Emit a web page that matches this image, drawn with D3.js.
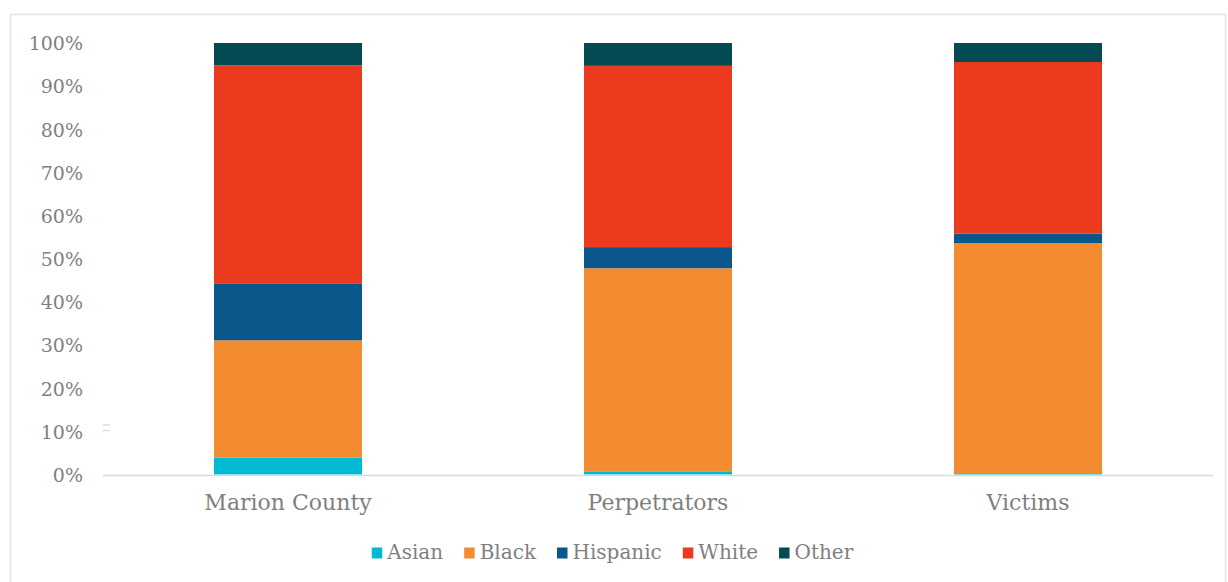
<!DOCTYPE html>
<html>
<head>
<meta charset="utf-8">
<script src="https://cdn.jsdelivr.net/npm/d3@7"></script>
<style>
  html, body { margin: 0; padding: 0; background: #ffffff; }
  svg { display: block; }
</style>
</head>
<body>
<svg id="chart" width="1228" height="582"></svg>
<script>
const categories = ["Marion County", "Perpetrators", "Victims"];
const seriesNames = ["Asian", "Black", "Hispanic", "White", "Other"];
const asian    = [3.9, 0.6, 0.3];
const black    = [27.2, 47.2, 53.3];
const hispanic = [13.2, 4.9, 2.2];
const white    = [50.5, 42.0, 39.8];
const other    = [5.2, 5.3, 4.4];
const yTicks = [0, 10, 20, 30, 40, 50, 60, 70, 80, 90, 100];
const colors = ["#00B9D2", "#F38C31", "#0A578C", "#EB3A1E", "#044B54"];

const seriesValues = [asian, black, hispanic, white, other];
const rows = categories.map((c, i) => {
  const r = { category: c };
  seriesNames.forEach((s, j) => { r[s] = seriesValues[j][i]; });
  return r;
});

const svg = d3.select("#chart");
const textColor = "#7f7f7f";
const fontFam = "'DejaVu Serif', serif";

// outer frame
svg.append("rect")
  .attr("x", 10.5).attr("y", 14.5)
  .attr("width", 1215).attr("height", 600)
  .attr("fill", "none").attr("stroke", "#e3e3e3").attr("stroke-width", 1.5);

const x = d3.scaleBand().domain(categories).range([103, 1213])
  .paddingInner(0.6).paddingOuter(0.3);
const y = d3.scaleLinear().domain([0, 100]).range([474.5, 43]);

const stack = d3.stack().keys(seriesNames);
const stacked = stack(rows);

// bars
svg.append("g").selectAll("g")
  .data(stacked).join("g")
  .attr("fill", (d, i) => colors[i])
  .selectAll("rect")
  .data(d => d).join("rect")
  .attr("x", d => x(d.data.category))
  .attr("width", x.bandwidth())
  .attr("y", d => y(d[1]))
  .attr("height", d => y(d[0]) - y(d[1]));

// x axis line
svg.append("line")
  .attr("x1", 103).attr("x2", 1213)
  .attr("y1", 475.5).attr("y2", 475.5)
  .attr("stroke", "#d9d9d9").attr("stroke-width", 1.5);

// small artifact marks near left
[425, 430.5].forEach(yy => {
  svg.append("line").attr("x1", 103).attr("x2", 110)
    .attr("y1", yy).attr("y2", yy)
    .attr("stroke", "#dddddd").attr("stroke-width", 1.5);
});

// y axis (labels only)
const yAxis = d3.axisLeft(y).tickValues(yTicks).tickFormat(d => d + "%").tickSize(0).tickPadding(0);
const yg = svg.append("g").attr("transform", "translate(83,0)").call(yAxis);
yg.select(".domain").remove();
yg.selectAll("text")
  .attr("fill", textColor)
  .attr("font-family", fontFam)
  .attr("font-size", 19)
  .attr("dy", "0.36em");

// x axis labels
const xAxis = d3.axisBottom(x).tickSize(0).tickPadding(0);
const xg = svg.append("g").attr("transform", "translate(0,510)").call(xAxis);
xg.select(".domain").remove();
xg.selectAll("text")
  .attr("fill", textColor)
  .attr("font-family", fontFam)
  .attr("font-size", 22)
  .attr("dy", 0)
  .attr("y", 0);

// legend
const legend = svg.append("g");
const items = legend.selectAll("g").data(seriesNames).join("g");
items.append("rect")
  .attr("width", 10.5).attr("height", 11)
  .attr("y", -11.5)
  .attr("fill", (d, i) => colors[i]);
items.append("text")
  .attr("x", 15.5)
  .attr("y", 0)
  .attr("fill", textColor)
  .attr("font-family", fontFam)
  .attr("font-size", 20)
  .text(d => d);
let cx = 0;
items.each(function () {
  const g = d3.select(this);
  const w = g.select("text").node().getComputedTextLength();
  g.attr("data-x", cx);
  g.attr("transform", `translate(${cx},0)`);
  cx += 15.5 + w + 21;
});
const totalW = cx - 21;
legend.attr("transform", `translate(${612.5 - totalW / 2},559)`);
</script>
</body>
</html>
